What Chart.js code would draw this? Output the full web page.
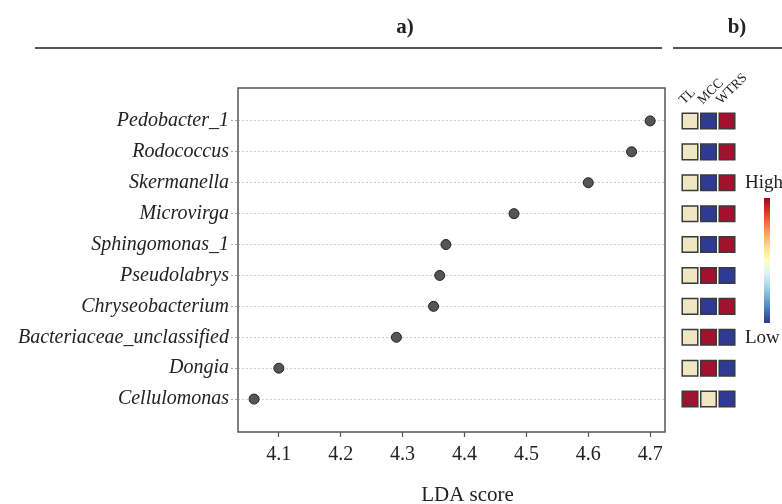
<!DOCTYPE html>
<html>
<head>
<meta charset="utf-8">
<script src="https://cdn.jsdelivr.net/npm/chart.js@4/dist/chart.umd.min.js"></script>
<style>
    html, body { margin: 0; padding: 0; background: #fff; }
    #wrap { position: relative; width: 782px; height: 504px; overflow: hidden; }
    #lda-chart { position: absolute; left: 0; top: 0; }
    #heat-chart { position: absolute; left: 672px; top: 0; }
</style>
</head>
<body>
<div id="wrap">
    <canvas id="lda-chart" width="672" height="504"></canvas>
    <canvas id="heat-chart" width="110" height="504"></canvas>
</div>
<script>
    'use strict';

    // Taxones (de arriba hacia abajo) y puntuación LDA
    var taxa = ['Pedobacter_1', 'Rodococcus', 'Skermanella', 'Microvirga', 'Sphingomonas_1',
        'Pseudolabrys', 'Chryseobacterium', 'Bacteriaceae_unclassified', 'Dongia', 'Cellulomonas'];
    var ldaScores = [4.70, 4.67, 4.60, 4.48, 4.37, 4.36, 4.35, 4.29, 4.10, 4.06];
    var xTicks = [4.1, 4.2, 4.3, 4.4, 4.5, 4.6, 4.7];

    // Heatmap b): 0 = bajo, 0.5 = medio, 1 = alto
    var groups = ['TL', 'MCC', 'WTRS'];
    var levelTL = [0.5, 0.5, 0.5, 0.5, 0.5, 0.5, 0.5, 0.5, 0.5, 1];
    var levelMCC = [0, 0, 0, 0, 0, 1, 0, 1, 1, 0.5];
    var levelWTRS = [1, 1, 1, 1, 1, 0, 1, 0, 0, 0];

    var serif = "'Liberation Serif', 'DejaVu Serif', serif";
    var rowMin = -1.065;
    var rowMax = 10.065;
    var heatRowMin = -0.42;

    function levelColor(v) {
        if (v >= 1) return '#a1122f';   // rojo alto
        if (v <= 0) return '#2e3b94';   // azul bajo
        return '#efe7c2';               // crema
    }

    // Cabecera: título y línea horizontal
    function headerPlugin(text, cx, x1, x2) {
        return {
            id: 'header',
            afterDraw: function(chart) {
                var ctx = chart.ctx;
                ctx.save();
                ctx.fillStyle = '#222';
                ctx.font = 'bold 21px ' + serif;
                ctx.textAlign = 'center';
                ctx.textBaseline = 'middle';
                ctx.fillText(text, cx, 28);
                ctx.strokeStyle = '#555';
                ctx.lineWidth = 2;
                ctx.beginPath();
                ctx.moveTo(x1, 48);
                ctx.lineTo(x2, 48);
                ctx.stroke();
                ctx.restore();
            }
        };
    }

    // Marco completo del área del gráfico + título del eje X
    var framePlugin = {
        id: 'frame',
        afterDatasetsDraw: function(chart) {
            var a = chart.chartArea;
            var ctx = chart.ctx;
            ctx.save();
            ctx.strokeStyle = '#555';
            ctx.lineWidth = 1.5;
            ctx.strokeRect(a.left, a.top, a.right - a.left, a.bottom - a.top);
            ctx.fillStyle = '#222';
            ctx.font = '21px ' + serif;
            ctx.textAlign = 'center';
            ctx.textBaseline = 'middle';
            ctx.fillText('LDA score', (a.left + a.right) / 2 + 16, 495);
            ctx.restore();
        }
    };

    // Gráfica a): puntos LDA
    new Chart(document.getElementById('lda-chart'), {
        type: 'scatter',
        data: {
            datasets: [{
                data: ldaScores.map(function(v, i) { return { x: v, y: i }; }),
                backgroundColor: '#555555',
                borderColor: '#222222',
                borderWidth: 1,
                pointRadius: 5
            }]
        },
        options: {
            responsive: false,
            animation: false,
            events: [],
            layout: { padding: { left: 0, right: 7, top: 88, bottom: 0 } },
            plugins: { legend: { display: false }, tooltip: { enabled: false } },
            scales: {
                x: {
                    type: 'linear',
                    min: 4.034,
                    max: 4.724,
                    afterBuildTicks: function(scale) {
                        scale.ticks = xTicks.map(function(v) { return { value: v }; });
                    },
                    afterFit: function(scale) {
                        scale.height = 72;
                        scale.paddingLeft = 0;
                        scale.paddingRight = 0;
                    },
                    border: { display: false },
                    grid: { drawOnChartArea: false, drawTicks: true, tickLength: 5, color: '#555', tickWidth: 1.2 },
                    ticks: {
                        color: '#222',
                        padding: 6,
                        maxRotation: 0,
                        font: { family: serif, size: 20 },
                        callback: function(v) { return Number(v).toFixed(1); }
                    }
                },
                y: {
                    type: 'linear',
                    reverse: true,
                    min: rowMin,
                    max: rowMax,
                    afterBuildTicks: function(scale) {
                        scale.ticks = taxa.map(function(t, i) { return { value: i }; });
                    },
                    afterFit: function(scale) { scale.width = 238; },
                    border: { display: false, dash: [2, 2] },
                    grid: { color: '#cfcfcf', lineWidth: 1, tickLength: 7, tickBorderDash: [2, 2], tickColor: '#aaa' },
                    ticks: {
                        color: '#222',
                        padding: 2,
                        font: { family: serif, size: 20, style: 'italic' },
                        callback: function(v) { return taxa[v]; }
                    }
                }
            }
        },
        plugins: [framePlugin, headerPlugin('a)', 405, 35, 662)]
    });

    // Leyenda de color (gradiente High/Low)
    var colorBarPlugin = {
        id: 'colorBar',
        afterDraw: function(chart) {
            var ctx = chart.ctx;
            var x = 92, y1 = 198, y2 = 323, w = 6;
            var grad = ctx.createLinearGradient(0, y1, 0, y2);
            var stops = ['#a50026', '#d73027', '#f46d43', '#fdae61', '#fee090', '#ffffbf',
                '#e0f3f8', '#abd9e9', '#74add1', '#4575b4', '#313695'];
            stops.forEach(function(c, i) { grad.addColorStop(i / (stops.length - 1), c); });
            ctx.save();
            ctx.fillStyle = grad;
            ctx.fillRect(x, y1, w, y2 - y1);
            ctx.fillStyle = '#222';
            ctx.font = '19px ' + serif;
            ctx.textAlign = 'left';
            ctx.textBaseline = 'middle';
            ctx.fillText('High', 73, 183);
            ctx.fillText('Low', 73, 338);
            ctx.restore();
        }
    };

    // Gráfica b): heatmap TL / MCC / WTRS
    var levels = [levelTL, levelMCC, levelWTRS];
    new Chart(document.getElementById('heat-chart'), {
        type: 'scatter',
        data: {
            datasets: groups.map(function(g, col) {
                return {
                    label: g,
                    data: levels[col].map(function(v, i) { return { x: col, y: i }; }),
                    backgroundColor: levels[col].map(levelColor),
                    borderColor: '#3a3a3a',
                    borderWidth: 1.5,
                    pointStyle: 'rect',
                    pointRadius: 11,
                    clip: false
                };
            })
        },
        options: {
            responsive: false,
            animation: false,
            events: [],
            layout: { padding: { left: 14, right: 45.75, top: 68, bottom: 72 } },
            plugins: { legend: { display: false }, tooltip: { enabled: false } },
            scales: {
                x: {
                    type: 'linear',
                    position: 'top',
                    min: -0.216,
                    max: 2.5,
                    afterBuildTicks: function(scale) {
                        scale.ticks = groups.map(function(g, i) { return { value: i }; });
                    },
                    afterFit: function(scale) {
                        scale.height = 40;
                    },
                    border: { display: false },
                    grid: { display: false, drawTicks: false, tickLength: 0 },
                    ticks: {
                        color: '#222',
                        padding: 0,
                        autoSkip: false,
                        minRotation: 45,
                        maxRotation: 45,
                        labelOffset: 3,
                        font: { family: serif, size: 13.5 },
                        callback: function(v) { return groups[v]; }
                    }
                },
                y: {
                    type: 'linear',
                    reverse: true,
                    min: heatRowMin,
                    max: rowMax,
                    display: false
                }
            }
        },
        plugins: [colorBarPlugin, headerPlugin('b)', 65, 1, 110)]
    });
</script>
</body>
</html>
